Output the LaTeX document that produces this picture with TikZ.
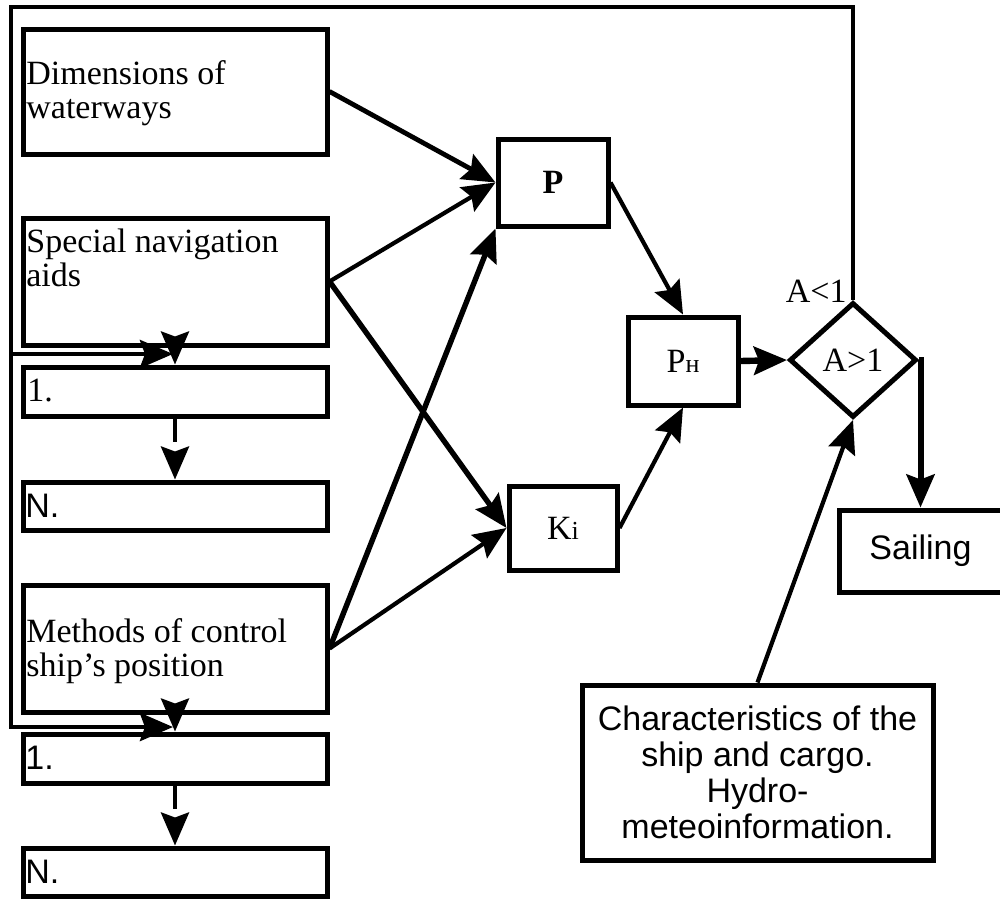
\documentclass[tikz,border=0pt]{standalone}
\usepackage{fontspec}
\setmainfont{Liberation Serif}
\setsansfont{Liberation Sans}
\usetikzlibrary{arrows.meta,shapes.geometric}

\tikzset{
  box/.style={draw, line width=2.5pt, inner sep=0pt, minimum width=152pt},
  lbl/.style={inner sep=0pt, align=left, font=\fontsize{17}{17}\selectfont},
  slbl/.style={inner sep=0pt, align=center, font=\sffamily\fontsize{17}{18}\selectfont},
  arr/.style={-{Stealth[length=16.5pt,width=14pt,inset=2.5pt]}, line width=2.1pt},
  arrb/.style={arr, line width=2.7pt},
  dots/.style={arr, line width=2.2pt, dash pattern=on 11.5pt off 30pt}
}

\begin{document}
\begin{tikzpicture}[x=0.5pt,y=-0.5pt]
  \useasboundingbox (0,0) rectangle (1000,900);
  % left column
  \node[box, minimum height=62.5pt] (dim) at (175,91.5) {};
  \node[lbl, anchor=west] (dimtxt) at (26,93.5) {Dimensions of\\waterways};
  \node[box, minimum height=63.5pt] (sna) at (175,281.5) {};
  \node[lbl, anchor=west] (snatxt) at (26,258) {Special navigation\\aids};
  \node[box, minimum height=24.5pt] (onea) at (175,391.5) {};
  \node[lbl, anchor=west] (oneatxt) at (27,391) {1.};
  \node[box, minimum height=24pt] (na) at (175,506) {};
  \node[slbl, anchor=west] (natxt) at (25,506) {N.};
  \node[box, minimum height=63.5pt] (meth) at (175,648.5) {};
  \node[lbl, anchor=west] (methtxt) at (26,651.5) {Methods of control\\ship’s position};
  \node[box, minimum height=24.5pt] (oneb) at (175,758.5) {};
  \node[slbl, anchor=west] (onebtxt) at (25,758) {1.};
  \node[box, minimum height=24pt] (nb) at (175,872) {};
  \node[slbl, anchor=west] (nbtxt) at (25,872) {N.};
  % middle
  \node[box, minimum width=55pt, minimum height=43.5pt, font=\bfseries\fontsize{17}{17}\selectfont] (P) at (553,182.5) {P};
  \node[box, minimum width=54pt, minimum height=42pt, font=\fontsize{17}{17}\selectfont] (K) at (563,528) {K{\fontsize{13}{13}\selectfont i}};
  \node[box, minimum width=55pt, minimum height=44pt, font=\fontsize{17}{17}\selectfont] (PH) at (683,361) {P{\fontsize{13}{13}\selectfont н}};
  % right
  \node[draw, diamond, line width=2.5pt, inner sep=0pt, minimum width=63.5pt, minimum height=57.5pt, font=\fontsize{17}{17}\selectfont] (dia) at (853,360) {A>1};
  \node[lbl, anchor=east] (less) at (847,291) {A<1};
  \node[box, minimum width=81.5pt, minimum height=41pt, font=\sffamily\fontsize{17}{17}\selectfont] (sail) at (920.5,551) {Sailing};
  \node[box, minimum width=175.5pt, minimum height=87.5pt] (chars) at (757.5,772.5) {};
  \node[slbl] (charstxt) at (757.5,772) {Characteristics of the\\ship and cargo.\\Hydro-\\meteoinformation.};
  % feedback loop
  \coordinate (fba) at (173,354);
  \coordinate (fbb) at (173,727);
  \draw[arr, line width=2.4pt] (dia.north) -- (853,7) -| (11,727) -- (fbb);
  \draw[arr, line width=2.4pt] (11,354) -- (fba);
  % arrows
  \draw[arr] (sna.south) -- (onea.north);
  \draw[arr] (meth.south) -- (oneb.north);
  \draw[dots] (onea.south) -- (na.north);
  \draw[dots] (oneb.south) -- (nb.north);
  \draw[arr, line width=2.4pt] (dim.east) -- (P.west);
  \draw[arr] (sna.east) -- (P.west);
  \draw[arrb] (sna.east) -- (K.west);
  \draw[arrb] (meth.east) -- (P.south west);
  \draw[arr] (meth.east) -- (K.west);
  \draw[arr] (P.east) -- (PH.north);
  \draw[arr] (K.east) -- (PH.south);
  \draw[arr, line width=3.2pt] (PH.east) -- (dia.west);
  \draw[arr, line width=3pt] (dia.east) -| (sail.north);
  \draw[arr] (chars.north) -- (dia.south);
\end{tikzpicture}
\end{document}
